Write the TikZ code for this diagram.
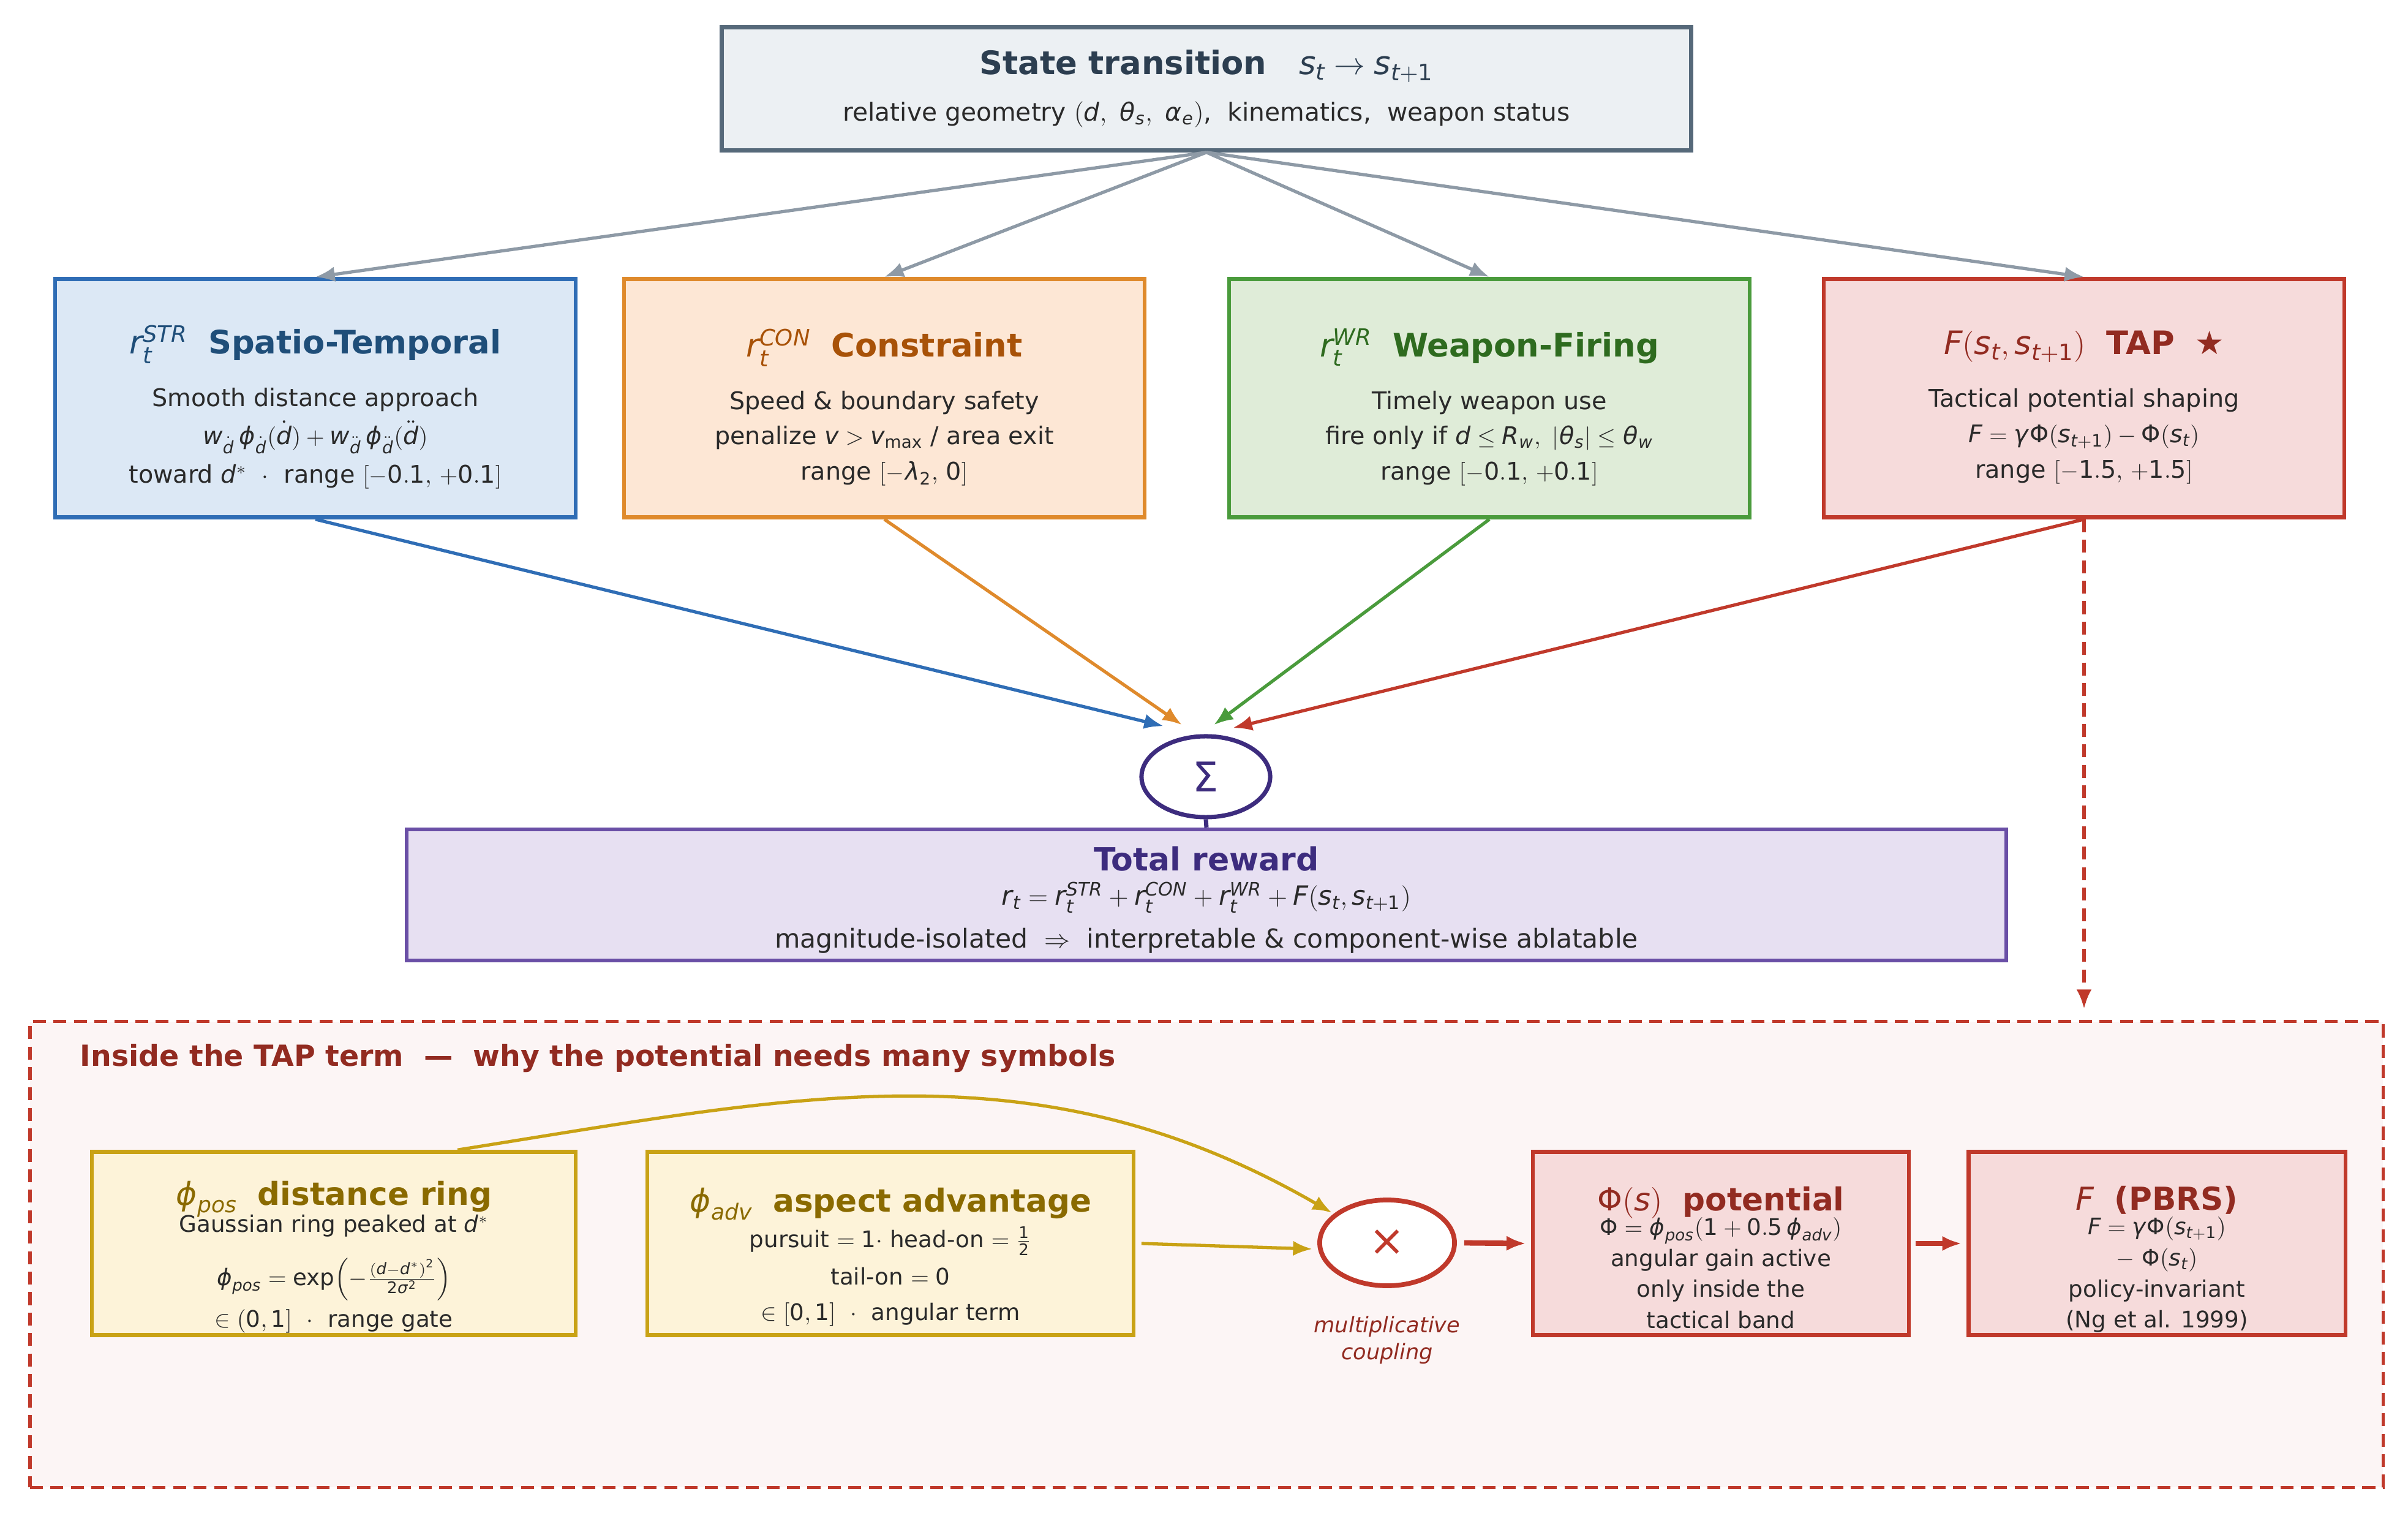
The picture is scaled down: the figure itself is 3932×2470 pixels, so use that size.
\documentclass[tikz,border=0pt]{standalone}
\usepackage{amsmath}
\usepackage{mathspec}
\setmainfont{DejaVu Sans}
\setmathsfont(Digits,Latin,Greek){DejaVu Sans}
\usetikzlibrary{arrows.meta,shapes.geometric,positioning}

\definecolor{stateFill}{HTML}{ECF0F3}
\definecolor{stateEdge}{HTML}{56697A}
\definecolor{stateText}{HTML}{2C3E50}
\definecolor{strFill}{HTML}{DCE8F5}
\definecolor{strEdge}{HTML}{2F6DB5}
\definecolor{strText}{HTML}{1F4E79}
\definecolor{conFill}{HTML}{FDE7D5}
\definecolor{conEdge}{HTML}{DF8A2C}
\definecolor{conText}{HTML}{A85208}
\definecolor{wrFill}{HTML}{DFECD8}
\definecolor{wrEdge}{HTML}{4A9B3C}
\definecolor{wrText}{HTML}{2E6B1F}
\definecolor{tapFill}{HTML}{F6DBDB}
\definecolor{tapEdge}{HTML}{C0392B}
\definecolor{tapText}{HTML}{922B21}
\definecolor{sumEdge}{HTML}{3D2C7E}
\definecolor{totalFill}{HTML}{E7E0F2}
\definecolor{totalEdge}{HTML}{6A4FA6}
\definecolor{panelFill}{HTML}{FCF5F5}
\definecolor{goldFill}{HTML}{FDF3D9}
\definecolor{goldEdge}{HTML}{C9A215}
\definecolor{goldText}{HTML}{8A6A00}
\definecolor{arrowGray}{HTML}{8E9AA6}
\definecolor{bodyText}{HTML}{2A2A2A}

\begin{document}
\begin{tikzpicture}
[x=0.01cm, y=-0.01cm,
 every node/.style={inner sep=0pt},
 box/.style={rectangle, line width=1.8pt},
 topbox/.style={box, minimum width=8.5cm, minimum height=3.89cm},
 tapbox/.style={box, minimum height=2.99cm},
 goldbox/.style={tapbox, fill=goldFill, draw=goldEdge},
 redbox/.style={tapbox, fill=tapFill, draw=tapEdge},
 toptext/.style={align=center, text=bodyText, font=\fontsize{11.3}{16.4}\selectfont},
 taptext/.style={align=center, text=bodyText, font=\fontsize{10.6}{14.4}\selectfont},
 feed/.style={line width=1.5pt, -{Latex[length=9pt,width=7pt]}}]
\useasboundingbox (0,0) rectangle (3932,2470);

% state and the four reward terms
\node (state) [box, fill=stateFill, draw=stateEdge, minimum width=15.82cm, minimum height=2.01cm, align=center,
  text=bodyText, font=\fontsize{11.6}{16}\selectfont] at (1970,145)
  {{\color{stateText}\fontsize{15}{17}\selectfont\textbf{State transition}\quad $s_t \rightarrow s_{t+1}$}\\[5.5pt]
   relative geometry $(d,\ \theta_s,\ \alpha_e)$,\ \ kinematics,\ \ weapon status};
\node (str) [topbox, fill=strFill, draw=strEdge] at (515,650) {};
\node (strtext) [toptext] at ([yshift=-0.15cm]str.center)
  {{\color{strText}\fontsize{15}{17}\selectfont $r_t^{STR}$\ \ \textbf{Spatio-Temporal}}\\[8pt]
   Smooth distance approach\\[1.5pt]
   $w_{\dot d}\,\varphi_{\dot d}(\dot d) + w_{\ddot d}\,\varphi_{\ddot d}(\ddot d)$\\[1.5pt]
   toward $d^{*}$\ \ $\cdot$\ \ range $[-0.1,\,+0.1]$};
\node (con) [topbox, fill=conFill, draw=conEdge] at (1444,650) {};
\node (context) [toptext] at ([yshift=-0.15cm]con.center)
  {{\color{conText}\fontsize{15}{17}\selectfont $r_t^{CON}$\ \ \textbf{Constraint}}\\[8pt]
   Speed \& boundary safety\\
   penalize $v > v_{\text{max}}$ / area exit\\
   range $[-\lambda_2,\,0]$};
\node (wr) [topbox, fill=wrFill, draw=wrEdge] at (2432,650) {};
\node (wrtext) [toptext] at ([yshift=-0.15cm]wr.center)
  {{\color{wrText}\fontsize{15}{17}\selectfont $r_t^{WR}$\ \ \textbf{Weapon-Firing}}\\[8pt]
   Timely weapon use\\
   fire only if $d \leq R_w,\ |\theta_s| \leq \theta_w$\\
   range $[-0.1,\,+0.1]$};
\node (tap) [topbox, fill=tapFill, draw=tapEdge] at (3403,650) {};
\node (taptext) [toptext] at ([yshift=-0.15cm]tap.center)
  {{\color{tapText}\fontsize{15}{17}\selectfont $F(s_t, s_{t+1})$\ \ \textbf{TAP}\ \ ★}\\[8pt]
   Tactical potential shaping\\
   $F = \gamma\Phi(s_{t+1}) - \Phi(s_t)$\\
   range $[-1.5,\,+1.5]$};

% sum and total
\node (sum) [ellipse, fill=white, draw=sumEdge, line width=2pt, minimum width=2.1cm, minimum height=1.32cm,
  text=sumEdge, font=\fontsize{19}{19}\selectfont] at (1969,1268) {Σ};
\node (total) [box, fill=totalFill, draw=totalEdge, minimum width=26.11cm, minimum height=2.14cm] at (1970,1461) {};
\node (totaltext) [align=center, text=bodyText, font=\fontsize{12.3}{17}\selectfont] at ([yshift=-0.08cm]total.center)
  {{\color{sumEdge}\fontsize{14.8}{17}\selectfont\textbf{Total reward}}\\[-1pt]
   $r_t = r_t^{STR} + r_t^{CON} + r_t^{WR} + F(s_t, s_{t+1})$\\[3pt]
   {\fontsize{12.1}{16}\selectfont magnitude-isolated\ \ $\Rightarrow$\ \ interpretable \& component-wise ablatable}};

\draw [feed, arrowGray] (state.south) -- (str.north);
\draw [feed, arrowGray] (state.south) -- (con.north);
\draw [feed, arrowGray] (state.south) -- (wr.north);
\draw [feed, arrowGray] (state.south) -- (tap.north);
\draw [feed, strEdge] (str.south) -- ([xshift=-0.69cm, yshift=0.13cm]sum.north);
\draw [feed, conEdge] (con.south) -- ([xshift=-0.39cm, yshift=0.15cm]sum.north);
\draw [feed, wrEdge] (wr.south) -- ([xshift=0.13cm, yshift=0.15cm]sum.north);
\draw [feed, tapEdge] (tap.south) -- ([xshift=0.44cm, yshift=0.10cm]sum.north);
\draw [line width=2pt, sumEdge] (sum.south) -- (total.north);

% inside the TAP term
\node (panel) [rectangle, fill=panelFill, draw=tapEdge, line width=1.5pt, dash pattern=on 6pt off 3.5pt,
  minimum width=38.4cm, minimum height=7.6cm] at (1970,2048) {};
\draw [feed, tapEdge, dash pattern=on 6pt off 3.5pt] (tap.south) -- ([yshift=0.18cm]tap.south |- panel.north);
\node (paneltitle) [anchor=west, text=tapText, font=\fontsize{13.5}{16}\selectfont\bfseries] at (130,1728)
  {Inside the TAP term\ \ —\ \ why the potential needs many symbols};

\node (pos) [goldbox, minimum width=7.9cm] at (545,2030) {};
\node (postext) [taptext] at ([yshift=-0.22cm]pos.center)
  {{\color{goldText}\fontsize{14.7}{17}\selectfont $\varphi_{pos}$\ \ \textbf{distance ring}}\\[-2pt]
   Gaussian ring peaked at $d^{*}$\\[9pt]
   $\varphi_{pos} = \text{exp}\!\left(-\frac{(d-d^{*})^2}{2\sigma^2}\right)$\\[3pt]
   $\in(0,1]$\ \ $\cdot$\ \ range gate};
\node (adv) [goldbox, minimum width=7.93cm] at (1454,2030) {};
\node (advtext) [taptext] at ([yshift=-0.22cm]adv.center)
  {{\color{goldText}\fontsize{14.7}{17}\selectfont $\varphi_{adv}$\ \ \textbf{aspect advantage}}\\[2pt]
   pursuit $=1\cdot$ head-on $=\frac{1}{2}$\\[3pt]
   tail-on $=0$\\[2pt]
   $\in[0,1]$\ \ $\cdot$\ \ angular term};
\node (times) [ellipse, fill=white, draw=tapEdge, line width=2.2pt, minimum width=2.2cm, minimum height=1.4cm,
  text=tapEdge, font=\fontsize{20}{20}\selectfont] at (2265,2029) {×};
\node (coupling) [below=0.45cm of times, align=center, text=tapText, font=\fontsize{10}{12.5}\selectfont\itshape]
  {multiplicative\\coupling};
\node (pot) [redbox, minimum width=6.14cm] at (2810,2030) {};
\node (pottext) [taptext] at ([yshift=-0.23cm]pot.center)
  {{\color{tapText}\fontsize{14.7}{17}\selectfont $\Phi(s)$\ \ \textbf{potential}}\\[-3pt]
   $\Phi = \varphi_{pos}(1 + 0.5\,\varphi_{adv})$\\
   angular gain active\\
   only inside the\\
   tactical band};
\node (pbrs) [redbox, minimum width=6.15cm] at (3522,2030) {};
\node (pbrstext) [taptext] at ([yshift=-0.26cm]pbrs.center)
  {{\color{tapText}\fontsize{14.7}{17}\selectfont $F$\ \ \textbf{(PBRS)}}\\[-3pt]
   $F = \gamma\Phi(s_{t+1})$\\
   $-\ \Phi(s_t)$\\
   policy-invariant\\
   (Ng et al. 1999)};

\draw [feed, goldEdge] ([xshift=2.02cm]pos.north) to [out=9, in=150] ([xshift=-0.05cm]times.150);
\draw [feed, goldEdge] ([xshift=0.1cm]adv.east) -- ([xshift=-0.08cm, yshift=-0.1cm]times.west);
\draw [feed, tapEdge, line width=2.5pt] ([xshift=0.12cm]times.east) -- ([xshift=-0.08cm]pot.west);
\draw [feed, tapEdge, line width=2.5pt] ([xshift=0.08cm]pot.east) -- ([xshift=-0.08cm]pbrs.west);
\end{tikzpicture}
\end{document}
